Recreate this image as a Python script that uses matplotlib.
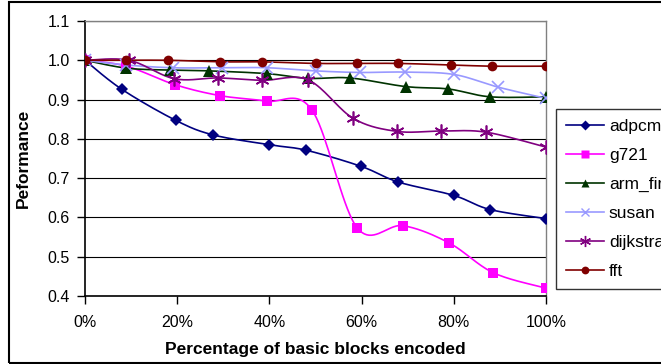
import numpy as np
import matplotlib
matplotlib.use('Agg')
import matplotlib.pyplot as plt
from matplotlib.patches import Rectangle

plt.rcParams['font.family'] = ['Liberation Sans', 'DejaVu Sans']

# x = percentage of basic blocks encoded, y = performance
adpcm_x = [0, 8, 19.7, 27.8, 40, 48, 59.9, 68, 80, 87.9, 100]
adpcm_y = [1.0, 0.926, 0.847, 0.81, 0.785, 0.771, 0.73, 0.69, 0.656, 0.62, 0.597]

g721_x = [0, 9, 19.5, 29.3, 39.4, 49.2, 59, 69, 79, 88.6, 100]
g721_y = [1.0, 0.985, 0.938, 0.91, 0.896, 0.874, 0.574, 0.579, 0.535, 0.459, 0.42]

armfir_x = [0, 9, 18.4, 27, 39.5, 48.4, 57.5, 69.6, 78.8, 87.9, 100]
armfir_y = [1.0, 0.98, 0.975, 0.973, 0.966, 0.954, 0.955, 0.933, 0.927, 0.907, 0.907]

susan_x = [0, 9, 19, 29.8, 39.5, 50, 59.6, 69.4, 80, 89.5, 100]
susan_y = [1.0, 0.988, 0.981, 0.981, 0.981, 0.973, 0.969, 0.97, 0.964, 0.932, 0.903]

dijkstra_x = [0, 9.6, 19.4, 28.9, 38.5, 48.4, 58.2, 67.7, 77.3, 87, 100]
dijkstra_y = [1.0, 1.0, 0.953, 0.955, 0.949, 0.95, 0.852, 0.819, 0.82, 0.817, 0.779]

fft_x = [0, 9, 18, 29.3, 38.5, 50, 58.9, 68, 79.5, 88.3, 100]
fft_y = [1.0, 1.0, 1.0, 0.996, 0.996, 0.992, 0.992, 0.992, 0.988, 0.985, 0.985]

x_ticks = [0, 20, 40, 60, 80, 100]
y_ticks = [0.4, 0.5, 0.6, 0.7, 0.8, 0.9, 1.0, 1.1]


def smooth(x, y, n=20):
    # Catmull-Rom path through the points, like Excel's smoothed lines
    p = np.column_stack([x, y]).astype(float)
    p = np.vstack([p[0], p, p[-1]])
    out = []
    for i in range(1, len(p) - 2):
        p0, p1, p2, p3 = p[i - 1], p[i], p[i + 1], p[i + 2]
        c1 = p1 + (p2 - p0) / 6
        c2 = p2 - (p3 - p1) / 6
        t = np.linspace(0, 1, n)[:, None]
        seg = ((1 - t) ** 3 * p1 + 3 * (1 - t) ** 2 * t * c1
               + 3 * (1 - t) * t ** 2 * c2 + t ** 3 * p2)
        out.append(seg if i == 1 else seg[1:])
    out = np.vstack(out)
    return out[:, 0], out[:, 1]


fig = plt.figure(figsize=(6.61, 3.64), dpi=100)
ax = fig.add_axes([85 / 661, 1 - 296 / 364, 461 / 661, 275 / 364])

series = [
    ('adpcm', adpcm_x, adpcm_y, '#000080', 'D', 6, 'none'),
    ('g721', g721_x, g721_y, '#FF00FF', 's', 7, 'none'),
    ('arm_fir', armfir_x, armfir_y, '#003300', '^', 8, 'none'),
    ('susan', susan_x, susan_y, '#9999FF', 'x', 8, None),
    ('dijkstra', dijkstra_x, dijkstra_y, '#800080', (6, 2, 0), 10, None),
    ('fft', fft_x, fft_y, '#800000', 'o', 7, 'none'),
]

for name, xs, ys, col, mk, ms, mec in series:
    sx, sy = smooth(xs, ys)
    ax.plot(sx, sy, color=col, lw=1.2, zorder=3)
    ax.plot(xs, ys, ls='none', marker=mk, ms=ms, color=col,
            mec=col if mec is None else mec, mew=1.2, zorder=4)
    ax.plot([], [], color=col, lw=1.2, marker=mk, ms=ms * 0.8,
            mec=col if mec is None else mec, label=name)

ax.set_xlim(0, 100)
ax.set_ylim(0.4, 1.1)
ax.set_xticks(x_ticks)
ax.set_xticklabels(['%d%%' % v for v in x_ticks])
ax.set_yticks(y_ticks)
ax.set_yticklabels(['%.1f' % v for v in y_ticks])
ax.grid(axis='y', color='black', lw=0.8)
ax.set_axisbelow(True)
ax.tick_params(axis='both', labelsize=11.5, direction='out', length=6,
               width=1, color='black')
ax.tick_params(axis='x', pad=8)
ax.tick_params(axis='y', pad=5)

for s in ['top', 'right']:
    ax.spines[s].set_color('#808080')
    ax.spines[s].set_linewidth(1)
for s in ['left', 'bottom']:
    ax.spines[s].set_color('black')
    ax.spines[s].set_linewidth(1.2)

ax.set_xlabel('Percentage of basic blocks encoded', fontsize=12.5,
              fontweight='bold', labelpad=8)
ax.set_ylabel('Peformance', fontsize=12.5, fontweight='bold', labelpad=12)

# legend runs off the right edge, as in the original
leg = ax.legend(loc='upper left', bbox_to_anchor=(556 / 661, 1 - 109 / 364),
                bbox_transform=fig.transFigure, fontsize=12.5, frameon=True,
                fancybox=False, edgecolor='black', borderpad=0.55,
                handlelength=2.2, handletextpad=0.3, labelspacing=0.8,
                borderaxespad=0)
leg.get_frame().set_linewidth(1)

# outer chart border
fig.patches.append(Rectangle((9 / 661, 1 / 364), 1.0, 361 / 364,
                             transform=fig.transFigure, fill=False,
                             edgecolor='black', lw=1.5))

plt.savefig('out.png', dpi=100)
